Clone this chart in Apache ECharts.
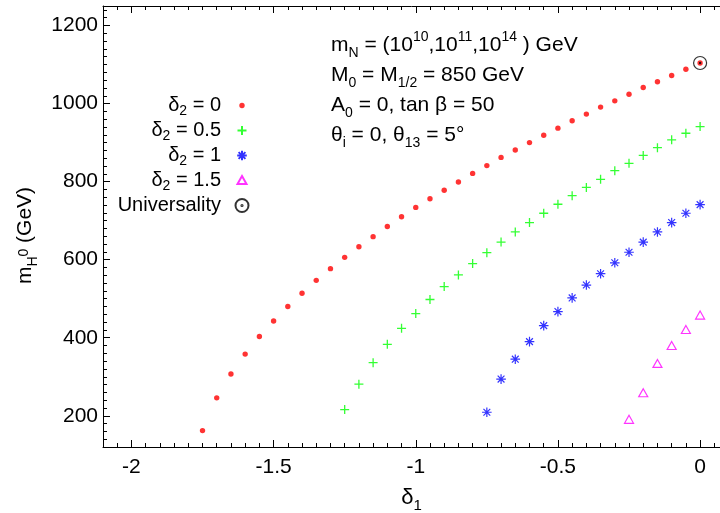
<!DOCTYPE html>
<html>
<head>
<meta charset="utf-8">
<script src="https://cdn.jsdelivr.net/npm/echarts@6/dist/echarts.min.js"></script>
<style>
  html, body { margin: 0; padding: 0; background: #fff; }
  #main { width: 720px; height: 513px; }
</style>
</head>
<body>
<div id="main"></div>
<script>
// delta_1 grid of the scan (step 0.05), longest curve first
var xRed = [-1.75, -1.7, -1.65, -1.6, -1.55, -1.5, -1.45, -1.4, -1.35, -1.3, -1.25, -1.2,
            -1.15, -1.1, -1.05, -1, -0.95, -0.9, -0.85, -0.8, -0.75, -0.7, -0.65, -0.6,
            -0.55, -0.5, -0.45, -0.4, -0.35, -0.3, -0.25, -0.2, -0.15, -0.1, -0.05, 0];
var xGreen = xRed.slice(10);
var xBlue = xRed.slice(20);
var xPink = xRed.slice(30);

// m_H0 in GeV
var yRed = [162, 246, 307, 358, 403, 443, 480, 514, 547, 577, 606, 633, 659, 685, 710, 734,
            756, 778, 799, 821, 841, 862, 881, 900, 919, 937, 956, 973, 991, 1007, 1024, 1041,
            1056, 1072, 1088, 1104];
var yGreen = [216, 281, 336, 383, 424, 462, 498, 531, 561, 590, 618, 645, 671, 695, 719, 742,
              764, 785, 806, 828, 847, 867, 887, 907, 924, 941];
var yBlue = [209, 294, 345, 390, 431, 467, 502, 535, 564, 592, 619, 645, 671, 695, 719, 741];
var yPink = [190, 258, 333, 379, 420, 457];
var univ = [[0, 1104]];

var xTicks = [-2, -1.5, -1, -0.5, 0];
var yTicks = [200, 400, 600, 800, 1000, 1200];
var xMinor = [];
for (var i = -42; i <= 1; i++) xMinor.push(+(i * 0.05).toFixed(2));
var yMinor = [];
for (var j = 120; j <= 1240; j += 20) yMinor.push(j);

var labels = {
  d0: 'δ{s|2} = 0',
  d05: 'δ{s|2} = 0.5',
  d1: 'δ{s|2} = 1',
  d15: 'δ{s|2} = 1.5',
  univ: 'Universality'
};
var notes = [
  'm{s|N} = (10{p|10},10{p|11},10{p|14} ) GeV',
  'M{s|0} = M{s|1/2} = 850 GeV',
  'A{s|0} = 0, tan β = 50',
  'θ{s|i} = 0, θ{s|13} = 5°'
];

var FONT = "'Liberation Sans', Arial, Helvetica, sans-serif";

// markers in a 14x14 box (the moveTo corners fix the box)
var SYM_DOT = 'path://M0 0M14 14M9.7 7A2.7 2.7 0 1 1 4.3 7A2.7 2.7 0 1 1 9.7 7Z';
var SYM_PLUS = 'path://M0 0M14 14M7 2.5V11.5M2.5 7H11.5';
var SYM_STAR = 'path://M0 0M14 14M7 2.2V11.8M2.2 7H11.8M3.6 3.6L10.4 10.4M3.6 10.4L10.4 3.6';
var SYM_TRI = 'path://M0 0M14 14M7 2.6L11.5 10.6H2.5Z';
var SYM_CIRC = 'path://M0 0M14 14M13.5 7A6.5 6.5 0 1 1 0.5 7A6.5 6.5 0 1 1 13.5 7ZM7.6 7A0.6 0.6 0 1 1 6.4 7A0.6 0.6 0 1 1 7.6 7Z';

function pairs(xs, ys) {
  return xs.map(function (x, k) { return [x, ys[k]]; });
}

function richSet(supPad) {
  return {
    s: { fontFamily: FONT, fontSize: 14, lineHeight: 14, verticalAlign: 'bottom', color: '#000' },
    p: { fontFamily: FONT, fontSize: 14, lineHeight: 14, verticalAlign: 'top', color: '#000',
         padding: [supPad || 0, 0, 0, 0] }
  };
}

var gridBox = { left: 103, right: 0, top: 6, bottom: 66, outerBoundsMode: 'none' };
var black = { color: '#000', width: 1 };

function tickAxis(pos, vals, len, showLine) {
  return {
    type: 'value',
    position: pos,
    axisLine: { show: showLine, onZero: false, lineStyle: black },
    axisTick: { inside: true, length: len, customValues: vals, lineStyle: black },
    axisLabel: { show: false },
    splitLine: { show: false }
  };
}

var xMain = tickAxis('bottom', xTicks, 7, true);
xMain.axisLabel = {
  show: true, customValues: xTicks, fontSize: 21, fontFamily: FONT, color: '#000', margin: 10
};
xMain.name = 'δ{s|1}';
xMain.nameLocation = 'middle';
xMain.nameGap = 26;
xMain.nameTextStyle = {
  fontSize: 22, fontFamily: FONT, color: '#000', lineHeight: 30,
  rich: { s: { fontFamily: FONT, fontSize: 15, lineHeight: 15, verticalAlign: 'bottom', color: '#000' } }
};

var yMain = tickAxis('left', yTicks, 7, true);
yMain.axisLabel = {
  show: true, customValues: yTicks, fontSize: 21, fontFamily: FONT, color: '#000', margin: 5,
  formatter: function (v) { return String(v); }
};
yMain.name = 'm{s|H}{p|0} (GeV)';
yMain.nameLocation = 'middle';
yMain.nameGap = 42;
yMain.nameTextStyle = {
  fontSize: 21, fontFamily: FONT, color: '#000', lineHeight: 30, padding: [0, 18, 0, 0],
  rich: richSet(7)
};

var xAxes = [xMain, tickAxis('bottom', xMinor, 4, false), tickAxis('top', xTicks, 7, true), tickAxis('top', xMinor, 4, false)];
var yAxes = [yMain, tickAxis('left', yMinor, 4, false), tickAxis('left', yTicks, 7, false), tickAxis('left', yMinor, 4, false)];
xAxes.forEach(function (a, k) { a.gridIndex = k; a.min = -2.1; a.max = 0.07; });
yAxes.forEach(function (a, k) { a.gridIndex = k; a.min = 120; a.max = 1250; });
yAxes[2].axisTick.show = false;
yAxes[3].axisTick.show = false;

function scatter(name, data, symbol, style, z) {
  return {
    name: name, type: 'scatter', data: data, symbol: symbol, symbolSize: 14,
    itemStyle: style, z: z, silent: true, emphasis: { disabled: true }
  };
}

var chart = echarts.init(document.getElementById('main'));
chart.setOption({
  animation: false,
  backgroundColor: '#fff',
  grid: [gridBox, gridBox, gridBox, gridBox],
  xAxis: xAxes,
  yAxis: yAxes,
  legend: {
    orient: 'vertical', right: 465, top: 88, align: 'right',
    itemWidth: 14, itemHeight: 14, itemGap: 0,
    selectedMode: false,
    formatter: function (n) { return labels[n]; },
    textStyle: {
      fontSize: 20, fontFamily: FONT, color: '#000', lineHeight: 25, padding: [0, 9, 0, 0],
      rich: richSet()
    },
    data: [
      { name: 'd0', icon: SYM_DOT },
      { name: 'd05', icon: SYM_PLUS },
      { name: 'd1', icon: SYM_STAR },
      { name: 'd15', icon: SYM_TRI },
      { name: 'univ', icon: SYM_CIRC }
    ]
  },
  graphic: [{
    type: 'text', left: 331, top: 30,
    style: {
      text: notes.join('\n'), fontSize: 21, fontFamily: FONT, fill: '#000', lineHeight: 30,
      rich: richSet()
    }
  }],
  series: [
    scatter('d0', pairs(xRed, yRed), SYM_DOT, { color: '#ff0000' }, 3),
    scatter('d05', pairs(xGreen, yGreen), SYM_PLUS, { color: '#00ff00', borderColor: '#00ff00', borderWidth: 1.3 }, 3),
    scatter('d1', pairs(xBlue, yBlue), SYM_STAR, { color: '#0000ff', borderColor: '#0000ff', borderWidth: 1.2 }, 3),
    scatter('d15', pairs(xPink, yPink), SYM_TRI, { color: 'rgba(0,0,0,0)', borderColor: '#ff00ff', borderWidth: 1.2 }, 3),
    scatter('univ', univ, SYM_CIRC, { color: 'rgba(0,0,0,0)', borderColor: '#000', borderWidth: 1.2 }, 4)
  ]
});
</script>
</body>
</html>
